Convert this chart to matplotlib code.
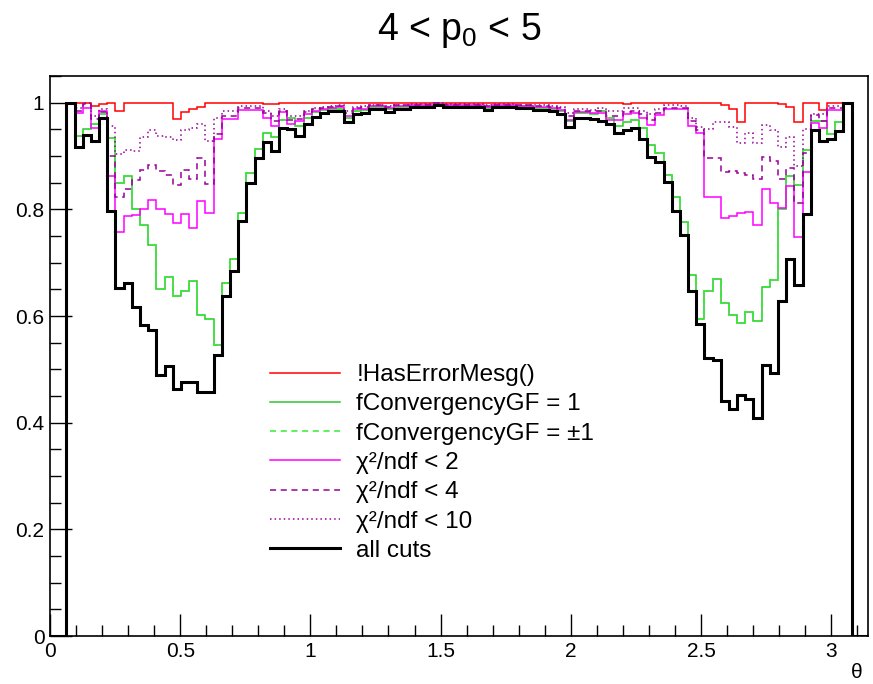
import numpy as np
import matplotlib
matplotlib.use("Agg")
import matplotlib.pyplot as plt
from matplotlib.ticker import MultipleLocator, FuncFormatter

plt.rcParams['font.family'] = ['Liberation Sans', 'DejaVu Sans']
plt.rcParams['mathtext.fontset'] = 'custom'
plt.rcParams['mathtext.rm'] = 'Liberation Sans'
plt.rcParams['mathtext.it'] = 'Liberation Sans'

# 100 bins in theta from 0 to pi
edges = np.linspace(0, np.pi, 101)

red = [0, 0,
       1.000, 1.000, 1.000, 0.994, 0.998, 1.000, 0.985, 1.000,
       1.000, 1.000, 1.000, 1.000, 1.000, 0.969, 0.982, 0.988, 0.992, 1.000,
       1.000, 1.000, 1.000, 1.000, 1.000, 1.000, 0.998, 0.998, 1.000, 1.000,
       1.000, 1.000, 1.000, 1.000, 1.000, 1.000, 0.999, 1.000, 1.000, 1.000,
       1.000, 1.000, 1.000, 1.000, 1.000, 1.000, 1.000, 1.000, 1.000, 1.000,
       1.000, 1.000, 1.000, 1.000, 1.000, 1.000, 1.000, 1.000, 1.000, 1.000,
       1.000, 1.000, 1.000, 0.999, 1.000, 1.000, 1.000, 1.000, 1.000, 1.000,
       0.998, 1.000, 1.000, 1.000, 1.000, 1.000, 1.000, 1.000, 1.000, 1.000,
       1.000, 1.000, 0.996, 0.989, 0.964, 1.000, 1.000, 1.000, 1.000, 0.998,
       0.991, 0.964, 1.000, 1.000, 0.986, 1.000, 1.000, 1.000, 0, 0]

green = [0, 0,
         1.000, 0.938, 0.951, 0.960, 0.978, 0.934, 0.850, 0.863,
         0.800, 0.771, 0.733, 0.650, 0.674, 0.638, 0.647, 0.665, 0.601, 0.595,
         0.546, 0.662, 0.707, 0.793, 0.869, 0.914, 0.943, 0.935, 0.968, 0.972,
         0.957, 0.972, 0.982, 0.986, 0.989, 0.989, 0.972, 0.985, 0.986, 0.992,
         0.992, 0.988, 0.992, 0.992, 0.994, 0.994, 0.994, 0.998, 0.994, 0.994,
         0.994, 0.994, 0.994, 0.990, 0.994, 0.994, 0.994, 0.993, 0.993, 0.990,
         0.990, 0.988, 0.985, 0.965, 0.980, 0.980, 0.978, 0.984, 0.972, 0.957,
         0.963, 0.968, 0.953, 0.921, 0.905, 0.865, 0.823, 0.776, 0.676, 0.595,
         0.647, 0.670, 0.624, 0.601, 0.586, 0.607, 0.590, 0.654, 0.667, 0.800,
         0.863, 0.845, 0.912, 0.966, 0.966, 0.941, 0.963, 1.000, 0, 0]

chi2 = [0, 0,
        1.000, 0.980, 0.990, 0.953, 0.985, 0.862, 0.757, 0.787,
        0.790, 0.801, 0.818, 0.800, 0.791, 0.775, 0.791, 0.765, 0.815, 0.793,
        0.932, 0.969, 0.969, 0.986, 0.986, 0.986, 0.972, 0.957, 0.982, 0.960,
        0.965, 0.978, 0.985, 0.988, 0.990, 0.991, 0.975, 0.988, 0.989, 0.994,
        0.994, 0.990, 0.994, 0.994, 0.995, 0.995, 0.995, 0.998, 0.995, 0.995,
        0.995, 0.995, 0.995, 0.992, 0.995, 0.995, 0.995, 0.994, 0.994, 0.992,
        0.992, 0.990, 0.987, 0.968, 0.982, 0.982, 0.980, 0.980, 0.968, 0.968,
        0.978, 0.980, 0.971, 0.959, 0.976, 0.988, 0.988, 0.988, 0.957, 0.943,
        0.823, 0.823, 0.783, 0.787, 0.793, 0.795, 0.770, 0.838, 0.811, 0.802,
        0.843, 0.749, 0.870, 0.962, 0.953, 0.986, 0.987, 1.000, 0, 0]

chi4 = [0, 0,
        1.000, 0.985, 0.998, 0.970, 0.982, 0.900, 0.824, 0.838,
        0.855, 0.873, 0.883, 0.872, 0.865, 0.845, 0.873, 0.856, 0.897, 0.848,
        0.942, 0.975, 0.975, 0.990, 0.990, 0.990, 0.980, 0.965, 0.985, 0.968,
        0.970, 0.982, 0.988, 0.990, 0.992, 0.993, 0.980, 0.990, 0.991, 0.995,
        0.995, 0.992, 0.995, 0.995, 0.996, 0.996, 0.996, 0.999, 0.996, 0.996,
        0.996, 0.996, 0.996, 0.994, 0.996, 0.996, 0.996, 0.995, 0.995, 0.994,
        0.994, 0.992, 0.990, 0.975, 0.985, 0.985, 0.984, 0.985, 0.975, 0.975,
        0.982, 0.985, 0.978, 0.968, 0.980, 0.990, 0.990, 0.990, 0.966, 0.949,
        0.896, 0.896, 0.870, 0.871, 0.868, 0.865, 0.856, 0.899, 0.890, 0.857,
        0.878, 0.811, 0.905, 0.976, 0.966, 0.990, 0.990, 1.000, 0, 0]

chi10 = [0, 0,
         1.000, 0.990, 1.000, 0.975, 0.988, 0.957, 0.903, 0.912,
         0.910, 0.936, 0.948, 0.938, 0.935, 0.930, 0.948, 0.953, 0.960, 0.929,
         0.972, 0.985, 0.985, 0.993, 0.993, 0.993, 0.985, 0.975, 0.988, 0.975,
         0.975, 0.985, 0.990, 0.992, 0.994, 0.995, 0.984, 0.992, 0.993, 0.996,
         0.996, 0.994, 0.996, 0.996, 0.997, 0.997, 0.997, 1.000, 0.997, 0.997,
         0.997, 0.997, 0.997, 0.995, 0.997, 0.997, 0.997, 0.996, 0.996, 0.995,
         0.995, 0.994, 0.992, 0.980, 0.988, 0.988, 0.987, 0.990, 0.985, 0.985,
         0.990, 0.990, 0.985, 0.978, 0.988, 0.995, 0.995, 0.993, 0.972, 0.955,
         0.950, 0.963, 0.963, 0.955, 0.924, 0.943, 0.924, 0.959, 0.949, 0.916,
         0.935, 0.882, 0.951, 0.979, 0.979, 0.994, 0.994, 1.000, 0, 0]

allcuts = [0, 0,
           1.000, 0.916, 0.940, 0.929, 0.971, 0.796, 0.653, 0.662,
           0.617, 0.584, 0.573, 0.490, 0.507, 0.464, 0.476, 0.476, 0.457, 0.457,
           0.526, 0.637, 0.684, 0.779, 0.850, 0.897, 0.926, 0.910, 0.953, 0.951,
           0.938, 0.960, 0.974, 0.980, 0.984, 0.984, 0.963, 0.979, 0.980, 0.988,
           0.988, 0.982, 0.988, 0.988, 0.991, 0.991, 0.991, 0.996, 0.991, 0.991,
           0.991, 0.991, 0.991, 0.986, 0.991, 0.991, 0.991, 0.990, 0.990, 0.986,
           0.986, 0.984, 0.979, 0.955, 0.972, 0.972, 0.970, 0.965, 0.960, 0.943,
           0.948, 0.952, 0.932, 0.899, 0.888, 0.851, 0.796, 0.752, 0.646, 0.585,
           0.522, 0.518, 0.440, 0.426, 0.451, 0.445, 0.409, 0.509, 0.494, 0.629,
           0.707, 0.659, 0.792, 0.949, 0.928, 0.932, 0.947, 1.000, 0, 0]

labels = ['!HasErrorMesg()', 'fConvergencyGF = 1', 'fConvergencyGF = \u00b11',
          '\u03c7\u00b2/ndf < 2', '\u03c7\u00b2/ndf < 4', '\u03c7\u00b2/ndf < 10', 'all cuts']

fig = plt.figure(figsize=(8.73, 6.84), dpi=100)
ax = fig.add_axes([50 / 873, 1 - 636 / 684, 818 / 873, 560 / 684])

ax.stairs(red, edges, color='#ff0000', lw=1.1, label=labels[0])
ax.stairs(green, edges, color='#33c433', lw=1.1, label=labels[1])
ax.stairs(green, edges, color='#33ee33', lw=1.1, linestyle=(0, (4, 3)), label=labels[2])
ax.stairs(chi2, edges, color='#ff00ff', lw=1.1, label=labels[3])
ax.stairs(chi4, edges, color='#990099', lw=1.1, linestyle=(0, (4, 3)), label=labels[4])
ax.stairs(chi10, edges, color='#990099', lw=1.1, linestyle=(0, (1, 2)), label=labels[5])
ax.stairs(allcuts, edges, color='black', lw=2.2, label=labels[6])

ax.set_xlim(0, np.pi)
ax.set_ylim(0, 1.05)
ax.xaxis.set_major_locator(MultipleLocator(0.5))
ax.xaxis.set_minor_locator(MultipleLocator(0.1))
ax.yaxis.set_major_locator(MultipleLocator(0.2))
ax.yaxis.set_minor_locator(MultipleLocator(0.05))
fmt = FuncFormatter(lambda v, p: '%g' % round(v, 2))
ax.xaxis.set_major_formatter(fmt)
ax.yaxis.set_major_formatter(fmt)
ax.tick_params(which='both', direction='in', top=False, right=False, labelsize=15, width=1)
ax.tick_params(which='major', length=16)
ax.tick_params(which='minor', length=8)
ax.tick_params(axis='y', pad=4)
ax.tick_params(axis='x', pad=4)
for s in ax.spines.values():
    s.set_linewidth(1.2)

fig.text(862 / 873, 1 - 672 / 684, '\u03b8', fontsize=15, ha='right', va='center')
fig.text(459 / 873, 1 - 30 / 684, r'4 < p$_{0}$ < 5', fontsize=27, ha='center', va='center')

ax.legend(loc='upper left', bbox_to_anchor=((270 - 50) / 818, (636 - 364) / 560),
          frameon=False, fontsize=17.5, handlelength=2.9, handletextpad=0.65,
          labelspacing=0.3, borderpad=0, borderaxespad=0)

fig.savefig('out.png', dpi=100)
